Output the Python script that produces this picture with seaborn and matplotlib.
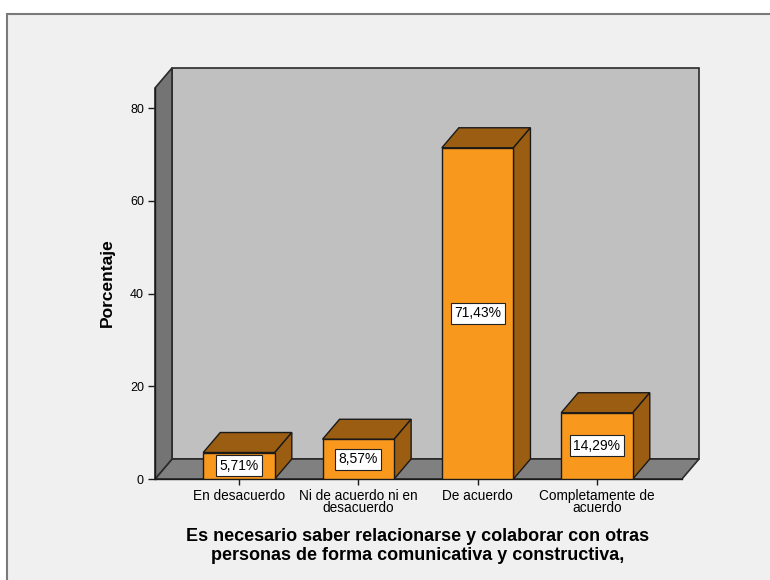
import pandas as pd
import seaborn as sns
import matplotlib.pyplot as plt
from matplotlib.patches import Polygon, Rectangle

# datos
categorias = ["En desacuerdo", "Ni de acuerdo ni en\ndesacuerdo", "De acuerdo",
              "Completamente de\nacuerdo"]
porcentajes = [5.71, 8.57, 71.43, 14.29]
titulo = "Es necesario saber relacionarse y colaborar con otras\npersonas de forma comunicativa y constructiva,"

sns.set_theme(style="white")
plt.rcParams['font.family'] = ['Liberation Sans', 'DejaVu Sans']
plt.rcParams.update({"text.color": "black", "axes.labelcolor": "black",
                     "xtick.color": "black", "ytick.color": "black"})

W, H = 770, 580
fig = plt.figure(figsize=(W / 100, H / 100), dpi=100)
fig.patch.set_facecolor("white")
fig.add_artist(Rectangle((7 / W, -0.01), 1.0, 1 - 14 / H + 0.01, transform=fig.transFigure,
                         facecolor="#f0f0f0", edgecolor="#7a7a7a", lw=1.5, zorder=0))

ax = fig.add_axes([155 / W, (H - 479) / H, (699 - 155) / W, (479 - 68) / H])
ax.set_facecolor("none")

df = pd.DataFrame({"cat": categorias, "pct": porcentajes})
sns.barplot(data=df, x="cat", y="pct", color="#f8981d", saturation=1, width=0.6,
            edgecolor="#1a1a1a", linewidth=1, ax=ax)
bars = list(ax.patches)

# escalas en px -> datos
x0, xf, xb = -0.704, 3.712, 3.855
ytop = 88.63
dx, dy = 0.1425, 4.313
yf = ytop - dy
ax.set_xlim(x0, xb)
ax.set_ylim(0, ytop)

edge = "#2a2a2a"
ax.add_patch(Rectangle((x0 + dx, dy), xb - (x0 + dx), ytop - dy, facecolor="#c0c0c0",
                       edgecolor=edge, lw=1.2, zorder=0, clip_on=False))
ax.add_patch(Polygon([(x0, 0), (xf, 0), (xb, dy), (x0 + dx, dy)], facecolor="#808080",
                     edgecolor=edge, lw=1.2, zorder=0.5, clip_on=False))
ax.add_patch(Polygon([(x0, 0), (x0, yf), (x0 + dx, ytop), (x0 + dx, dy)], facecolor="#747474",
                     edgecolor=edge, lw=1.2, zorder=0.6, clip_on=False))

for p in bars:
    bx, w, h = p.get_x(), p.get_width(), p.get_height()
    p.set_zorder(3)
    ax.add_patch(Polygon([(bx, h), (bx + w, h), (bx + w + dx, h + dy), (bx + dx, h + dy)],
                         facecolor="#9a5d12", edgecolor="#1a1a1a", lw=1, zorder=2.5, clip_on=False))
    ax.add_patch(Polygon([(bx + w, 0), (bx + w, h), (bx + w + dx, h + dy), (bx + w + dx, dy)],
                         facecolor="#9a5d12", edgecolor="#1a1a1a", lw=1, zorder=2.5, clip_on=False))
    etiqueta = f"{h:.2f}%".replace(".", ",")
    ax.text(bx + w / 2, h / 2, etiqueta, ha="center", va="center", fontsize=10, zorder=4,
            bbox=dict(boxstyle="square,pad=0.25", fc="white", ec="#222222", lw=0.8))

sns.despine(ax=ax, top=True, right=True)
ax.spines['left'].set_bounds(0, yf)
ax.spines['bottom'].set_bounds(x0, xf)
for s in ("left", "bottom"):
    ax.spines[s].set_color("#1a1a1a")
    ax.spines[s].set_linewidth(1)
    ax.spines[s].set_zorder(1)

ax.set_yticks([0, 20, 40, 60, 80])
ax.tick_params(axis="y", direction="out", length=5, width=1, color="#1a1a1a",
               labelsize=9, pad=3, left=True)
ax.tick_params(axis="x", direction="out", length=4.5, width=1, color="#1a1a1a",
               labelsize=9.8, pad=2.5, bottom=True)
for t in ax.get_xticklabels():
    t.set_linespacing(0.85)
ax.set_xlabel("")
ax.set_ylabel("Porcentaje", fontsize=12.5, fontweight="bold")
ax.yaxis.set_label_coords(-0.074, 0.477)

fig.text(418 / W, 1 - 546 / H, titulo, ha="center", va="center", fontsize=13,
         fontweight="bold", linespacing=1.1)

fig.savefig("out.png", dpi=100)
